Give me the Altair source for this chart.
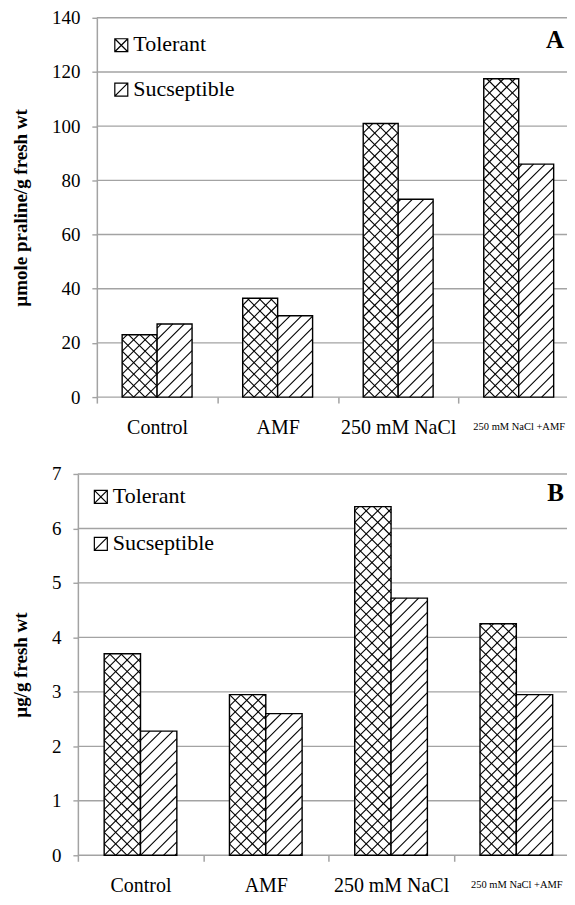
import json
import altair as alt
import pandas as pd

# ---------------- data ----------------
categories = ["Control", "AMF", "250 mM NaCl", "250 mM NaCl +AMF"]
series = ["Tolerant", "Sucseptible"]

proline_tolerant = [23, 36.5, 101, 117.5]
proline_susceptible = [27, 30, 73, 86]

sugar_tolerant = [3.7, 2.95, 6.4, 4.25]
sugar_susceptible = [2.28, 2.6, 4.72, 2.95]

panel_labels = ["A", "B"]
y_titles = ["µmole praline/g fresh wt", "µg/g fresh wt"]
y_max = [140, 7]
y_step = [20, 1]

# ---------------- style ----------------
FONT = "Liberation Serif"
GAP = 0.21        # empty fraction of a category on each side of the bar pair
HATCH = 11.5      # hatch spacing in px
GRAY = "#a3a3a3"
WIDTH = 502

PATH_CROSS = "M-1,-1H1V1H-1Z M-1,-1L1,1 M-1,1L1,-1"
PATH_DIAG = "M-1,-1H1V1H-1Z M-1,1L1,-1"


def make_df(tol, sus):
    rows = []
    for i, c in enumerate(categories):
        rows.append({"idx": i, "category": c, "series": series[0], "value": tol[i]})
        rows.append({"idx": i, "category": c, "series": series[1], "value": sus[i]})
    return pd.DataFrame(rows)


def panel(df, ymax, ystep, ytitle, label, off, height,
          sym_x, sym_y, row_gap, label_dy):
    n = len(categories)
    width = WIDTH
    kx = (width - off) / n
    ky = height / ymax
    xscale = alt.Scale(domain=[0, n], range=[off, width], nice=False, zero=False)
    yscale = alt.Scale(domain=[0, ymax], nice=False, zero=True)
    labels_js = json.dumps(categories)
    last = n - 0.5
    xaxis = alt.Axis(
        values=[k / 2 for k in range(2 * n + 1)],
        labelExpr=f"datum.value % 1 == 0.5 ? {labels_js}[floor(datum.value)] : ''",
        tickOpacity={"condition": {"test": "datum.value % 1 == 0", "value": 1}, "value": 0},
        labelFontSize={"condition": {"test": f"datum.value == {last}", "value": 10.5}, "value": 20},
        labelPadding={"condition": {"test": f"datum.value == {last}", "value": 18}, "value": 14},
        labelOverlap=False, labelFlush=False, labelBound=False,
        grid=False, domain=False, tickSize=6, tickColor=GRAY, tickWidth=1.5,
    )
    yvalues = list(range(0, ymax + 1, ystep))
    yaxis = alt.Axis(
        values=yvalues, offset=-off,
        grid=False,
        tickSize=5, tickColor=GRAY, tickWidth=1.4,
        domainColor=GRAY, domainWidth=1.5,
        labelPadding=12, titlePadding=21,
    )

    grid = alt.Chart(pd.DataFrame({"g": yvalues})).transform_calculate(
        gx0="0", gx1=str(n)
    ).mark_rule(color=GRAY, strokeWidth=1.4).encode(
        x=alt.X("gx0:Q", scale=xscale, axis=xaxis, title=None),
        x2="gx1:Q",
        y=alt.Y("g:Q", scale=yscale, axis=yaxis, title=ytitle),
    )

    base = alt.Chart(df).transform_calculate(
        x0=f"datum.idx + (datum.series == '{series[0]}' ? {GAP} : 0.5)",
        x1=f"datum.idx + (datum.series == '{series[0]}' ? 0.5 : {1 - GAP})",
        zero="0",
    )

    bars = base.mark_bar(fill="white", stroke="black", strokeWidth=1.4).encode(
        x=alt.X("x0:Q", scale=xscale, axis=xaxis, title=None),
        x2="x1:Q",
        y=alt.Y("value:Q", scale=yscale, axis=yaxis, title=ytitle),
        y2="zero:Q",
    )

    hatch = base.transform_calculate(
        W=f"(datum.x1 - datum.x0) * {kx}",
        H=f"datum.value * {ky}",
        fams=f"datum.series == '{series[0]}' ? [1, -1] : [1]",
    ).transform_flatten(["fams"], as_=["fam"]).transform_calculate(
        cs=(f"datum.fam == 1 ? sequence(-floor(datum.H / {HATCH}) * {HATCH}, datum.W, {HATCH})"
            f" : sequence({HATCH}, datum.W + datum.H, {HATCH})"),
    ).transform_flatten(["cs"], as_=["c"]).transform_calculate(
        ya="datum.fam == 1 ? max(0, -datum.c) : max(0, datum.c - datum.W)",
        yb="datum.fam == 1 ? min(datum.H, datum.W - datum.c) : min(datum.H, datum.c)",
        xa="datum.fam == 1 ? datum.ya + datum.c : datum.c - datum.ya",
        xb="datum.fam == 1 ? datum.yb + datum.c : datum.c - datum.yb",
    ).transform_filter("datum.yb - datum.ya > 0.5").transform_calculate(
        X1=f"datum.x0 + datum.xa / {kx}",
        X2=f"datum.x0 + datum.xb / {kx}",
        Y1=f"datum.ya / {ky}",
        Y2=f"datum.yb / {ky}",
    ).mark_rule(color="black", strokeWidth=1.1).encode(
        x=alt.X("X1:Q", scale=xscale, axis=xaxis, title=None),
        x2="X2:Q",
        y=alt.Y("Y1:Q", scale=yscale, axis=yaxis, title=ytitle),
        y2="Y2:Q",
    )

    # legend drawn by hand (hatched key symbols + serif labels)
    legend_layers = []
    for k, (s, path) in enumerate(zip(series, [PATH_CROSS, PATH_DIAG])):
        yk = sym_y + k * row_gap
        sym = alt.Chart(pd.DataFrame({"s": [s]})).mark_point(
            shape=path, filled=False, color="black", strokeWidth=1.2, size=169, opacity=1
        ).encode(x=alt.value(sym_x), y=alt.value(yk))
        txt = alt.Chart(pd.DataFrame({"s": [s]})).mark_text(
            font=FONT, fontSize=22, align="left", baseline="middle", color="black"
        ).encode(text="s:N", x=alt.value(sym_x + 12), y=alt.value(yk - 1))
        legend_layers += [sym, txt]

    plabel = alt.Chart(pd.DataFrame({"t": [label]})).mark_text(
        font=FONT, fontSize=25, fontWeight="bold", align="right",
        baseline="middle", color="black",
    ).encode(text="t:N", x=alt.value(width - 15), y=alt.value(label_dy))

    return alt.layer(grid, bars, hatch, *legend_layers, plabel).properties(
        width=width, height=height
    )


chart_a = panel(make_df(proline_tolerant, proline_susceptible), y_max[0], y_step[0],
                y_titles[0], panel_labels[0], 19, 380, 43.5, 27.5, 44.5, 22)
chart_b = panel(make_df(sugar_tolerant, sugar_susceptible), y_max[1], y_step[1],
                y_titles[1], panel_labels[1], 0, 382, 23, 23, 47, 19.5)

chart = alt.vconcat(chart_a, chart_b, spacing=28).properties(
    padding={"left": 3, "top": 0, "right": -13, "bottom": 0}
).configure_view(stroke=None).configure_axis(
    labelFont=FONT, labelFontSize=19, labelColor="black",
    titleFont=FONT, titleFontSize=19, titleFontWeight="bold", titleColor="black",
)

chart.save("out.html", embed_options={"renderer": "svg", "actions": False})
